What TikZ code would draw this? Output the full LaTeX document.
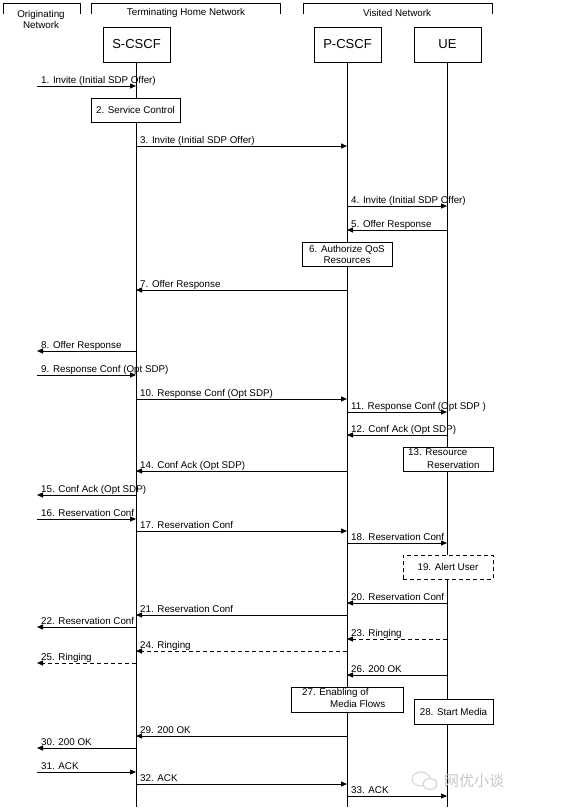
\documentclass[tikz,border=0pt]{standalone}
\usepackage{fontspec}
\setmainfont{Liberation Sans}
\newfontfamily\cjk{Noto Sans CJK SC}
\usetikzlibrary{arrows.meta}
\tikzset{
  msgline/.style={line width=0.8pt,-{Triangle[length=6pt,width=5pt]}},
  ret/.style={dash pattern=on 4pt off 3pt},
  lbl/.style={anchor=base west,inner sep=0pt,font=\fontsize{9.8}{11}\selectfont},
  ent/.style={draw,line width=0.8pt,fill=white,minimum width=67pt,minimum height=35pt,inner sep=0pt,font=\fontsize{13}{15}\selectfont},
  actbox/.style={draw,line width=0.8pt,fill=white,inner sep=0pt,font=\fontsize{9.8}{11}\selectfont},
  lifeline/.style={line width=0.8pt},
  bracket/.style={line width=0.8pt},
  hdr/.style={inner sep=0pt,font=\fontsize{9.8}{11}\selectfont,align=center}
}
\newcommand\msg[5]{%
  \coordinate (a#1) at (#2,#1);
  \coordinate (b#1) at (#3,#1);
  \draw[msgline,#5] (a#1) -- (b#1);
  \pgfmathsetmacro\lx{min(#2,#3)+4}%
  \node[lbl] (l#1) at (\lx,#1-3) {#4};
}
\begin{document}
\begin{tikzpicture}[x=1pt,y=-1pt]
\useasboundingbox (0,0) rectangle (562,808);
% network brackets
\coordinate (o1) at (3,14); \coordinate (o2) at (3,3); \coordinate (o3) at (80,3); \coordinate (o4) at (80,14);
\draw[bracket] (o1) -- (o2) -- (o3) -- (o4);
\coordinate (t1) at (91,14); \coordinate (t2) at (91,3); \coordinate (t3) at (280,3); \coordinate (t4) at (280,14);
\draw[bracket] (t1) -- (t2) -- (t3) -- (t4);
\coordinate (v1) at (303,14); \coordinate (v2) at (303,3); \coordinate (v3) at (492,3); \coordinate (v4) at (492,14);
\draw[bracket] (v1) -- (v2) -- (v3) -- (v4);
\node[hdr] (orig) at (41,19.5) {Originating\\Network};
\node[hdr] (term) at (186,13) {Terminating Home Network};
\node[hdr] (vis) at (397,13) {Visited Network};
% entities
\node[ent] (scscf) at (136.5,44.5) {S-CSCF};
\node[ent] (pcscf) at (347.5,44.5) {P-CSCF};
\node[ent] (ue) at (447.5,44.5) {UE};
\coordinate (se) at (136,807);
\coordinate (pe) at (347,807);
\coordinate (ue_e) at (447,807);
\draw[lifeline] (scscf.south -| se) -- (se);
\draw[lifeline] (pcscf.south -| pe) -- (pe);
\draw[lifeline] (ue.south -| ue_e) -- (ue_e);
% messages
\msg{86}{37}{136}{1. Invite (Initial SDP Offer)}{}
\node[actbox,minimum width=89pt,minimum height=24pt] (sc) at (135.5,110) {2. Service Control};
\msg{146}{136}{347}{3. Invite (Initial SDP Offer)}{}
\msg{206}{347}{447}{4. Invite (Initial SDP Offer)}{}
\msg{230}{447}{347}{5. Offer Response}{}
\node[actbox,minimum width=90pt,minimum height=24pt,align=center] (qos) at (347,254) {6. Authorize QoS\\Resources};
\msg{290}{347}{136}{7. Offer Response}{}
\msg{351}{136}{37}{8. Offer Response}{}
\msg{375}{37}{136}{9. Response Conf (Opt SDP)}{}
\msg{399}{136}{347}{10. Response Conf (Opt SDP)}{}
\msg{412}{347}{447}{11. Response Conf (Opt SDP )}{}
\msg{435}{447}{347}{12. Conf Ack (Opt SDP)}{}
\node[actbox,minimum width=90pt,minimum height=24pt] (rr) at (448,459) {};
\node[lbl] (rr1) at (408,455.5) {13. Resource};
\node[lbl] (rr2) at (427,468) {Reservation};
\msg{471}{347}{136}{14. Conf Ack (Opt SDP)}{}
\msg{495}{136}{37}{15. Conf Ack (Opt SDP)}{}
\msg{519}{37}{136}{16. Reservation Conf}{}
\msg{531}{136}{347}{17. Reservation Conf}{}
\msg{543}{347}{447}{18. Reservation Conf}{}
\node[actbox,dashed,dash pattern=on 4pt off 3pt,minimum width=90pt,minimum height=24pt] (alert) at (448,567) {19. Alert User};
\msg{603}{447}{347}{20. Reservation Conf}{}
\msg{615}{347}{136}{21. Reservation Conf}{}
\msg{627}{136}{37}{22. Reservation Conf}{}
\msg{639}{447}{347}{23. Ringing}{ret}
\msg{651}{347}{136}{24. Ringing}{ret}
\msg{663}{136}{37}{25. Ringing}{ret}
\msg{675}{447}{347}{26. 200 OK}{}
\node[actbox,minimum width=112pt,minimum height=25pt] (media) at (347,699.5) {};
\node[lbl] (media1) at (302,695) {27. Enabling of};
\node[lbl] (media2) at (330,707.5) {Media Flows};
\node[actbox,minimum width=79pt,minimum height=25pt] (start) at (453.5,711.5) {28. Start Media};
\msg{736}{347}{136}{29. 200 OK}{}
\msg{748}{136}{37}{30. 200 OK}{}
\msg{772}{37}{136}{31. ACK}{}
\msg{784}{136}{347}{32. ACK}{}
\msg{796}{347}{447}{33. ACK}{}
% watermark
\draw[gray!35,line width=1pt] (421,779) ellipse [x radius=9pt,y radius=7pt];
\draw[gray!35,line width=1pt,fill=white] (430,784) ellipse [x radius=7pt,y radius=5.5pt];
\node[inner sep=0pt,text=gray!45,font=\cjk\fontsize{15}{16}\selectfont] (wm) at (474,781) {网优小谈};
\end{tikzpicture}
\end{document}
